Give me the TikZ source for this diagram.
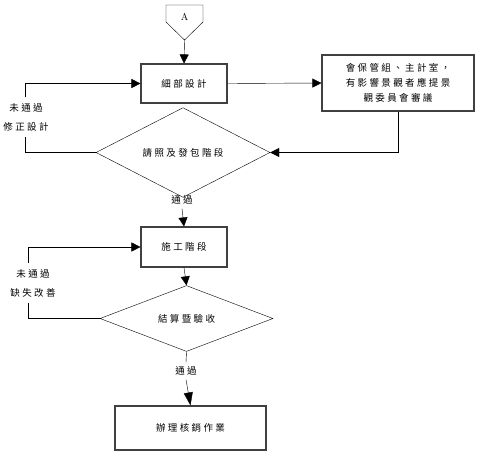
\documentclass[tikz,border=0pt]{standalone}
\usepackage{fontspec}
\newfontfamily\cjk[LetterSpace=25]{Noto Sans CJK TC}
\usetikzlibrary{shapes.geometric,arrows.meta}

\begin{document}
\begin{tikzpicture}[x=1pt, y=-1pt,
every node/.style={font=\cjk\fontsize{9.5}{19}\selectfont, align=center},
stepbox/.style={draw=black!75, line width=1.1pt, inner sep=0pt},
check/.style={shape=diamond, draw, thin, inner sep=0pt},
note/.style={inner sep=4pt},
arr/.style={-{Triangle[length=9pt, width=9pt]}},
bigarr/.style={-{Triangle[length=13pt, width=9pt]}}]
\useasboundingbox (0,0) rectangle (478,455);
% off-page connector
\draw[thin] (166,5) -- (203,5) -- (203,22) -- (184.5,40) coordinate(tipA) -- (166,22) -- cycle;
\node(conA)[font=\fontsize{10}{12}\selectfont] at (184.5,17){A};
% main flow
\node(design)[stepbox, minimum width=86pt, minimum height=39pt] at (184,83.5){細部設計};
\node(review)[stepbox, minimum width=152pt, minimum height=56pt] at (398,83){會保管組、主計室，\\[-4pt]有影響景觀者應提景\\[-4pt]觀委員會審議};
\node(permit)[check, minimum width=174pt, minimum height=71pt] at (183,152.5){請照及發包階段};
\node(pass1)[note] at (182,200){通過};
\node(build)[stepbox, minimum width=86pt, minimum height=40pt] at (184,247){施工階段};
\node(accept)[check, minimum width=173pt, minimum height=61pt] at (186.5,318.5){結算暨驗收};
\node(pass2)[note] at (186,371){通過};
\node(close)[stepbox, minimum width=151pt, minimum height=44pt] at (190.5,428){辦理核銷作業};
% loop labels
\node(fix1)[note, inner sep=6pt] at (26,117){未通過\\修正設計};
\node(fix2)[note, inner sep=6pt] at (33,283){未通過\\缺失改善};
% connectors
\draw[thin, arr] (tipA) -- (design.north);
\draw[thin, arr] (design.east) -- (review.west);
\draw[thin, arr] (review.south) |- (permit.east);
\draw[thin] (permit.west) -| ([xshift=-1pt]fix1.south);
\draw[thin, arr] ([xshift=-1pt]fix1.north) |- (design.west);
\draw[thin, arr] (pass1.south) -- (build.north);
\draw[thin, arr] (build.south) -- (accept.north);
\draw[thin] (accept.west) -| ([xshift=-5pt]fix2.south);
\draw[thin, arr] ([xshift=-5pt]fix2.north) |- (build.west);
\draw[thin] (accept.south) -- (pass2.north);
\draw[thin, bigarr] (pass2.south) -- (close.north);
\end{tikzpicture}
\end{document}
